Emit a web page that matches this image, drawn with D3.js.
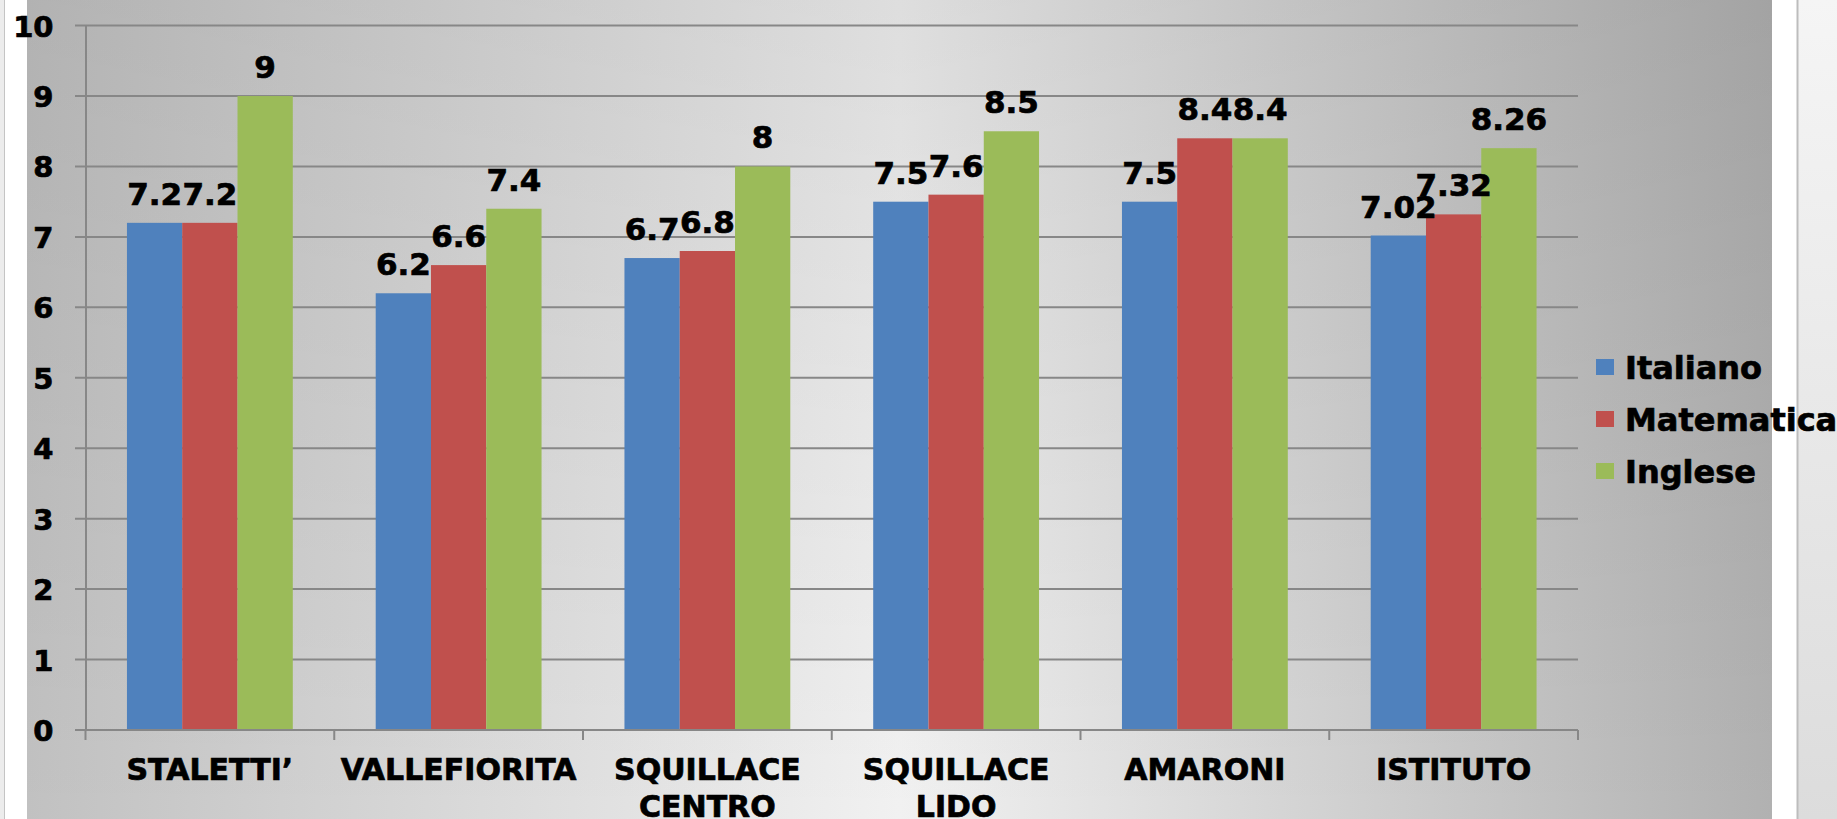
<!DOCTYPE html>
<html>
  <head>
    <title> Voti medi per plesso </title>
    <script src = "https://d3js.org/d3.v7.min.js" charset = "utf-8"></script>
    <style>
      body { margin: 0; background: #fff; }
      text { font-family: "DejaVu Sans", Verdana, sans-serif; font-weight: bold; fill: #000; stroke: #000; stroke-width: 0.7px; }
    </style>
  </head>

  <body>
    <script>
      // data
      var plessi = ["STALETTI\u2019", "VALLEFIORITA", "SQUILLACE\nCENTRO", "SQUILLACE\nLIDO", "AMARONI", "ISTITUTO"];
      var materie = ["Italiano", "Matematica", "Inglese"];
      var italiano = [7.2, 6.2, 6.7, 7.5, 7.5, 7.02];
      var matematica = [7.2, 6.6, 6.8, 7.6, 8.4, 7.32];
      var inglese = [9, 7.4, 8, 8.5, 8.4, 8.26];
      var yTicks = [0, 1, 2, 3, 4, 5, 6, 7, 8, 9, 10];
      var colori = ["#4F81BD", "#C0504D", "#9BBB59"];

      var width = 1837;
      var height = 819;

      var svg = d3.select("body") //the svg
        .append("svg")
        .attr("width", width)
        .attr("height", height);

      var defs = svg.append("defs");

      var bgH = defs.append("linearGradient") //left-right shading of the chart area
        .attr("id", "bgH")
        .attr("x1", "0").attr("y1", "0").attr("x2", "1").attr("y2", "0");
      bgH.append("stop").attr("offset", "0").attr("stop-color", "#c1c1c1");
      bgH.append("stop").attr("offset", "0.5").attr("stop-color", "#f1f1f1");
      bgH.append("stop").attr("offset", "1").attr("stop-color", "#b1b1b1");

      var bgV = defs.append("linearGradient") //a bit darker on top
        .attr("id", "bgV")
        .attr("x1", "0").attr("y1", "0").attr("x2", "0").attr("y2", "1");
      bgV.append("stop").attr("offset", "0").attr("stop-color", "#000").attr("stop-opacity", 0.08);
      bgV.append("stop").attr("offset", "1").attr("stop-color", "#000").attr("stop-opacity", 0);

      var side = defs.append("linearGradient")
        .attr("id", "side")
        .attr("x1", "0").attr("y1", "0").attr("x2", "0").attr("y2", "1");
      side.append("stop").attr("offset", "0").attr("stop-color", "#f5f5f5");
      side.append("stop").attr("offset", "1").attr("stop-color", "#dcdcdc");

      // frame around the chart
      svg.append("rect").attr("x", 0).attr("y", 0).attr("width", 4).attr("height", height).attr("fill", "#ececec");
      svg.append("line").attr("x1", 4.5).attr("x2", 4.5).attr("y1", 0).attr("y2", height).attr("stroke", "#c4c4c4");
      svg.append("rect").attr("x", 1798).attr("y", 0).attr("width", 39).attr("height", height).attr("fill", "url(#side)");
      svg.append("line").attr("x1", 1797.5).attr("x2", 1797.5).attr("y1", 0).attr("y2", height).attr("stroke", "#bdbdbd").attr("stroke-width", 2);

      svg.append("rect").attr("x", 27).attr("y", 0).attr("width", 1745).attr("height", height).attr("fill", "url(#bgH)");
      svg.append("rect").attr("x", 27).attr("y", 0).attr("width", 1745).attr("height", height).attr("fill", "url(#bgV)");

      // scales
      var x = d3.scaleBand()
        .domain(plessi)
        .range([85.5, 1578])
        .padding(0);

      var xs = d3.scaleBand()
        .domain(materie)
        .range([0, x.bandwidth()])
        .paddingInner(0)
        .paddingOuter(0.75);

      var y = d3.scaleLinear()
        .domain([0, 10])
        .range([730, 25.6]);

      // gridlines
      var grid = svg.append("g");
      grid.selectAll("line")
        .data(yTicks)
        .enter()
        .append("line")
        .attr("x1", 75)
        .attr("x2", 1578)
        .attr("y1", function(d){ return y(d); })
        .attr("y2", function(d){ return y(d); })
        .attr("stroke", "#878787")
        .attr("stroke-width", 2);

      // y axis
      var yAxis = svg.append("g")
        .attr("transform", "translate(85.5,0)")
        .call(d3.axisLeft(y).tickValues(yTicks).tickFormat(d3.format("d")).tickSize(0).tickPadding(32));
      yAxis.select(".domain").attr("stroke", "#878787").attr("stroke-width", 2);
      yAxis.selectAll("text")
        .attr("font-size", 29)
        .attr("font-family", null)
        .attr("fill", null)
        .attr("dy", "0.36em");

      // x axis
      var xAxis = svg.append("g")
        .attr("transform", "translate(0,730)")
        .call(d3.axisBottom(x).tickSize(0).tickFormat(""));
      xAxis.select(".domain").remove();
      var bounds = plessi.map(function(d){ return x(d); }).concat([x.range()[1]]);
      xAxis.selectAll(".bound")
        .data(bounds)
        .enter()
        .append("line")
        .attr("class", "bound")
        .attr("x1", function(d){ return d; })
        .attr("x2", function(d){ return d; })
        .attr("y1", 0)
        .attr("y2", 10)
        .attr("stroke", "#878787")
        .attr("stroke-width", 2);

      var xl = svg.append("g").selectAll("text")
        .data(plessi)
        .enter()
        .append("text")
        .attr("font-size", 30)
        .attr("text-anchor", "middle")
        .attr("x", function(d){ return x(d) + x.bandwidth() / 2; })
        .attr("y", 780);
      xl.each(function(d){
        var t = d3.select(this);
        d.split("\n").forEach(function(s, i){
          t.append("tspan")
            .attr("x", x(d) + x.bandwidth() / 2)
            .attr("dy", i === 0 ? 0 : 37)
            .text(s);
        });
      });

      // bars
      var valori = [italiano, matematica, inglese];
      var rows = [];
      plessi.forEach(function(p, i){
        materie.forEach(function(m, j){
          rows.push({ plesso: p, materia: m, v: valori[j][i], c: colori[j] });
        });
      });

      svg.append("rect") // x axis line under bars
        .attr("x", 75).attr("y", y(0) - 1).attr("width", 1503).attr("height", 2).attr("fill", "#878787");

      svg.append("g").selectAll("rect")
        .data(rows)
        .enter()
        .append("rect")
        .attr("x", function(d){ return x(d.plesso) + xs(d.materia); })
        .attr("y", function(d){ return y(d.v); })
        .attr("width", xs.bandwidth())
        .attr("height", function(d){ return y(0) - 1 - y(d.v); })
        .attr("fill", function(d){ return d.c; });

      svg.append("g").selectAll("text")
        .data(rows)
        .enter()
        .append("text")
        .attr("font-size", 31)
        .attr("text-anchor", "middle")
        .attr("x", function(d){ return x(d.plesso) + xs(d.materia) + xs.bandwidth() / 2; })
        .attr("y", function(d){ return y(d.v) - 18; })
        .text(function(d){ return d.v; });

      // legend
      var legend = svg.append("g").selectAll("g")
        .data(materie)
        .enter()
        .append("g")
        .attr("transform", function(d, i){ return "translate(1596," + (367 + i * 52) + ")"; });
      legend.append("rect")
        .attr("x", 0).attr("y", -8).attr("width", 18).attr("height", 16)
        .attr("fill", function(d, i){ return colori[i]; });
      legend.append("text")
        .attr("x", 29)
        .attr("y", 12)
        .attr("font-size", 32)
        .text(function(d){ return d; });
    </script>
  </body>
</html>
